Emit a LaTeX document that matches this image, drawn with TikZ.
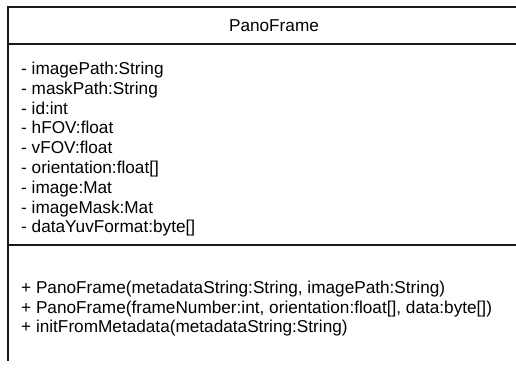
\documentclass[tikz,border=0pt]{standalone}
\usepackage{fontspec}
\setmainfont{Liberation Sans}
\begin{document}
\begin{tikzpicture}[x=1pt,y=-1pt,
  umlline/.style={line width=1.7pt,black!90},
  member/.style={anchor=base west,inner sep=0pt,font=\fontsize{17.2}{20}\selectfont},
  titletext/.style={anchor=base,inner sep=0pt,font=\fontsize{17.2}{20}\selectfont}]
\useasboundingbox (0,0) rectangle (516,367);
\clip (0,0) rectangle (516,367);
% box outline (cut off at the right and bottom)
\coordinate (tl) at (8,7);
\coordinate (tr) at (560,7);
\coordinate (s1l) at (8,44);
\coordinate (s1r) at (560,44);
\coordinate (s2l) at (8,245);
\coordinate (s2r) at (560,245);
\coordinate (bl) at (8,361);
\draw[umlline] (tr) -- (tl) -- (bl);
\draw[umlline] (s1l) -- (s1r);
\draw[umlline] (s2l) -- (s2r);
% title
\node[titletext] (title) at (274,31.5) {PanoFrame};
% attributes
\node[member] (a1) at (21,74.5) {- imagePath:String};
\node[member] (a2) at (21,94.3) {- maskPath:String};
\node[member] (a3) at (21,114.1) {- id:int};
\node[member] (a4) at (21,133.9) {- hFOV:float};
\node[member] (a5) at (21,153.7) {- vFOV:float};
\node[member] (a6) at (21,173.5) {- orientation:float[]};
\node[member] (a7) at (21,193.3) {- image:Mat};
\node[member] (a8) at (21,213.1) {- imageMask:Mat};
\node[member] (a9) at (21,232.9) {- dataYuvFormat:byte[]};
% methods
\node[member] (m1) at (21,293.5) {+ PanoFrame(metadataString:String, imagePath:String)};
\node[member] (m2) at (21,313) {+ PanoFrame(frameNumber:int, orientation:float[], data:byte[])};
\node[member] (m3) at (21,332.5) {+ initFromMetadata(metadataString:String)};
\end{tikzpicture}
\end{document}
